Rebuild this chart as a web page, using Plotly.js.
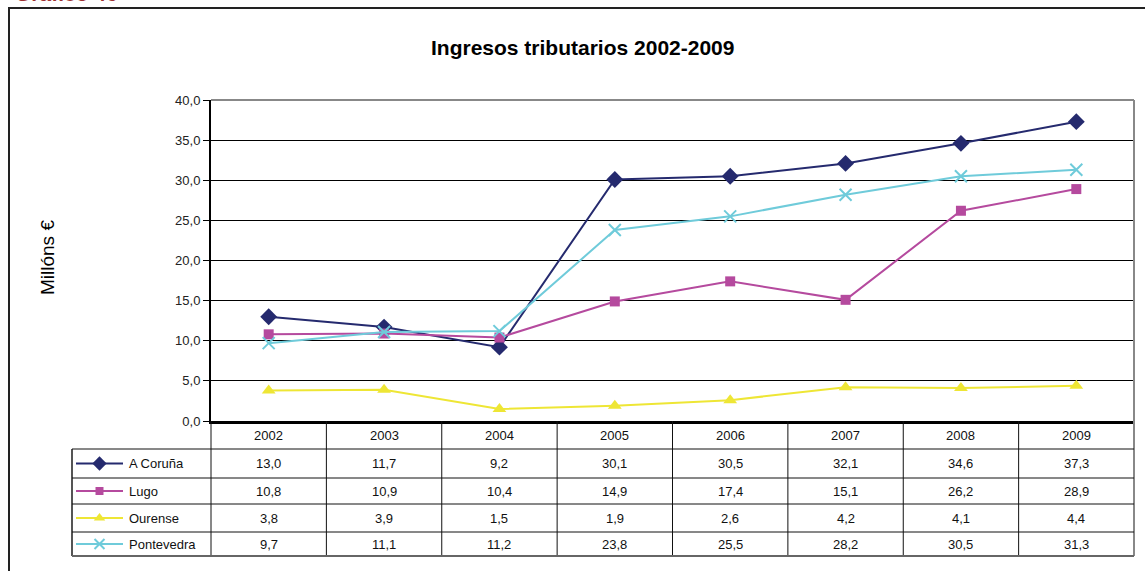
<!DOCTYPE html>
<html>
<head>
<meta charset="utf-8">
<script src="https://cdn.plot.ly/plotly-3.0.1.min.js"></script>
<style>html,body{margin:0;padding:0;background:#fff;}#chart{width:1145px;height:571px;}</style>
</head>
<body>
<div id="chart"></div>
<script>
// ---- data ----
const years = ['2002','2003','2004','2005','2006','2007','2008','2009'];
const seriesNames = ['A Coruña','Lugo','Ourense','Pontevedra'];
const aCoruna = [13.0, 11.7, 9.2, 30.1, 30.5, 32.1, 34.6, 37.3];
const lugo = [10.8, 10.9, 10.4, 14.9, 17.4, 15.1, 26.2, 28.9];
const ourense = [3.8, 3.9, 1.5, 1.9, 2.6, 4.2, 4.1, 4.4];
const pontevedra = [9.7, 11.1, 11.2, 23.8, 25.5, 28.2, 30.5, 31.3];
const yTickVals = [0,5,10,15,20,25,30,35,40];
const yTickText = ['0,0','5,0','10,0','15,0','20,0','25,0','30,0','35,0','40,0'];
const chartTitle = 'Ingresos tributarios 2002-2009';
const yTitle = 'Millóns €';
const captionText = 'Gráfico 46';

// ---- styles ----
const W = 1145, H = 571;
const colors = ['#252A6E', '#B54A9E', '#EEE635', '#6FCBDA'];
const symbols = ['diamond', 'square', 'triangle-up', 'x-thin-open'];
const msizes = [13, 10, 12, 12];
const allValues = [aCoruna, lugo, ourense, pontevedra];
const FF = 'Arial, Liberation Sans, sans-serif';

// plot area in pixels
const PL = 211, PR = 1134, PT = 100, PB = 421;
const px = v => v / W;
const py = v => 1 - v / H;

// table geometry in pixels
const rowLines = [449, 478, 504, 532, 556];
const headerMid = 435;
const labelLeft = 72;
const colW = (PR - PL) / years.length;

const traces = [];
allValues.forEach((vals, i) => {
  traces.push({
    type: 'scatter', mode: 'lines+markers', name: seriesNames[i],
    x: years, y: vals,
    line: {color: colors[i], width: 2},
    marker: {symbol: symbols[i], size: msizes[i], color: colors[i], line: {color: colors[i], width: i === 3 ? 2 : 0}},
    showlegend: false, hoverinfo: 'skip', cliponaxis: false
  });
});

// legend keys inside the table (overlay axes in pixel space)
seriesNames.forEach((n, i) => {
  const yc = (rowLines[i] + rowLines[i+1]) / 2;
  traces.push({
    type: 'scatter', mode: 'lines', x: [76, 123], y: [yc, yc], xaxis: 'x2', yaxis: 'y2',
    line: {color: colors[i], width: 2}, showlegend: false, hoverinfo: 'skip'
  });
  traces.push({
    type: 'scatter', mode: 'markers', x: [99.5], y: [yc], xaxis: 'x2', yaxis: 'y2',
    marker: {symbol: symbols[i], size: msizes[i] - 2, color: colors[i], line: {color: colors[i], width: i === 3 ? 2 : 0}},
    showlegend: false, hoverinfo: 'skip'
  });
});

const shapes = [];
const annotations = [];
const font = {family: FF, size: 13, color: '#111'};

// outer frame
shapes.push({type: 'rect', xref: 'paper', yref: 'paper', x0: px(9), x1: px(1160), y0: py(8), y1: py(590),
  line: {color: '#222', width: 2}, layer: 'below'});
// plot top and right borders (gray)
shapes.push({type: 'line', xref: 'paper', yref: 'paper', x0: px(PL), x1: px(PR), y0: py(PT), y1: py(PT), line: {color: '#888', width: 2}});
shapes.push({type: 'line', xref: 'paper', yref: 'paper', x0: px(PR), x1: px(PR), y0: py(PT), y1: py(PB), line: {color: '#888', width: 2}});
// table vertical lines
for (let i = 0; i <= years.length; i++) {
  const x = PL + i * colW;
  shapes.push({type: 'line', xref: 'paper', yref: 'paper', x0: px(x), x1: px(x), y0: py(PB), y1: py(rowLines[rowLines.length-1]),
    line: {color: i === years.length ? '#888' : '#111', width: i === years.length ? 2 : 1}});
}
// label column left line
shapes.push({type: 'line', xref: 'paper', yref: 'paper', x0: px(labelLeft), x1: px(labelLeft), y0: py(rowLines[0]), y1: py(rowLines[rowLines.length-1]),
  line: {color: '#555', width: 2}});
// table horizontal lines
rowLines.forEach((y, i) => {
  shapes.push({type: 'line', xref: 'paper', yref: 'paper', x0: px(labelLeft), x1: px(PR), y0: py(y), y1: py(y),
    line: {color: (i === rowLines.length - 1) ? '#666' : '#111', width: (i === rowLines.length - 1) ? 2 : 1}});
});

// header years
years.forEach((yr, j) => {
  annotations.push({xref: 'paper', yref: 'paper', x: px(PL + (j + 0.5) * colW), y: py(headerMid), text: yr,
    showarrow: false, font: font, xanchor: 'center', yanchor: 'middle'});
});
// table values and labels
allValues.forEach((vals, i) => {
  const yc = (rowLines[i] + rowLines[i+1]) / 2;
  annotations.push({xref: 'paper', yref: 'paper', x: px(127), y: py(yc), text: seriesNames[i],
    showarrow: false, font: font, xanchor: 'left', yanchor: 'middle'});
  vals.forEach((v, j) => {
    annotations.push({xref: 'paper', yref: 'paper', x: px(PL + (j + 0.5) * colW), y: py(yc), text: v.toFixed(1).replace('.', ','),
      showarrow: false, font: font, xanchor: 'center', yanchor: 'middle'});
  });
});
// title
annotations.push({xref: 'paper', yref: 'paper', x: px(582), y: py(47), text: '<b>' + chartTitle + '</b>',
  showarrow: false, font: {family: FF, size: 21, color: '#000'}, xanchor: 'center', yanchor: 'middle'});
// y title
annotations.push({xref: 'paper', yref: 'paper', x: px(47), y: py(258), text: yTitle, textangle: -90,
  showarrow: false, font: {family: FF, size: 19, color: '#000'}, xanchor: 'center', yanchor: 'middle'});
// cut-off caption at top
annotations.push({xref: 'paper', yref: 'paper', x: px(13), y: py(7), text: '<b>' + captionText + '</b>',
  showarrow: false, font: {family: FF, size: 21, color: '#9E2F2F'}, xanchor: 'left', yanchor: 'bottom'});

const layout = {
  width: W, height: H,
  margin: {l: 0, r: 0, t: 0, b: 0, pad: 0},
  paper_bgcolor: '#fff', plot_bgcolor: 'rgba(0,0,0,0)',
  showlegend: false,
  separators: ',.',
  xaxis: {
    domain: [px(PL), px(PR)], type: 'category', range: [-0.5, years.length - 0.5],
    showticklabels: false, ticks: '', showgrid: false, zeroline: false,
    showline: true, linecolor: '#000', linewidth: 3, fixedrange: true
  },
  yaxis: {
    domain: [py(PB), py(PT)], range: [0, 40], tickvals: yTickVals, ticktext: yTickText,
    ticks: 'outside', ticklen: 6, tickcolor: '#000', tickwidth: 1,
    showgrid: true, gridcolor: '#000', gridwidth: 1, zeroline: false,
    showline: true, linecolor: '#000', linewidth: 2,
    tickfont: {family: FF, size: 13, color: '#222'},
    fixedrange: true
  },
  xaxis2: {domain: [0, 1], range: [0, W], visible: false, fixedrange: true, anchor: 'y2'},
  yaxis2: {domain: [0, 1], range: [H, 0], visible: false, fixedrange: true, anchor: 'x2'},
  shapes: shapes,
  annotations: annotations
};

Plotly.newPlot('chart', traces, layout, {staticPlot: true, displayModeBar: false});
</script>
</body>
</html>
